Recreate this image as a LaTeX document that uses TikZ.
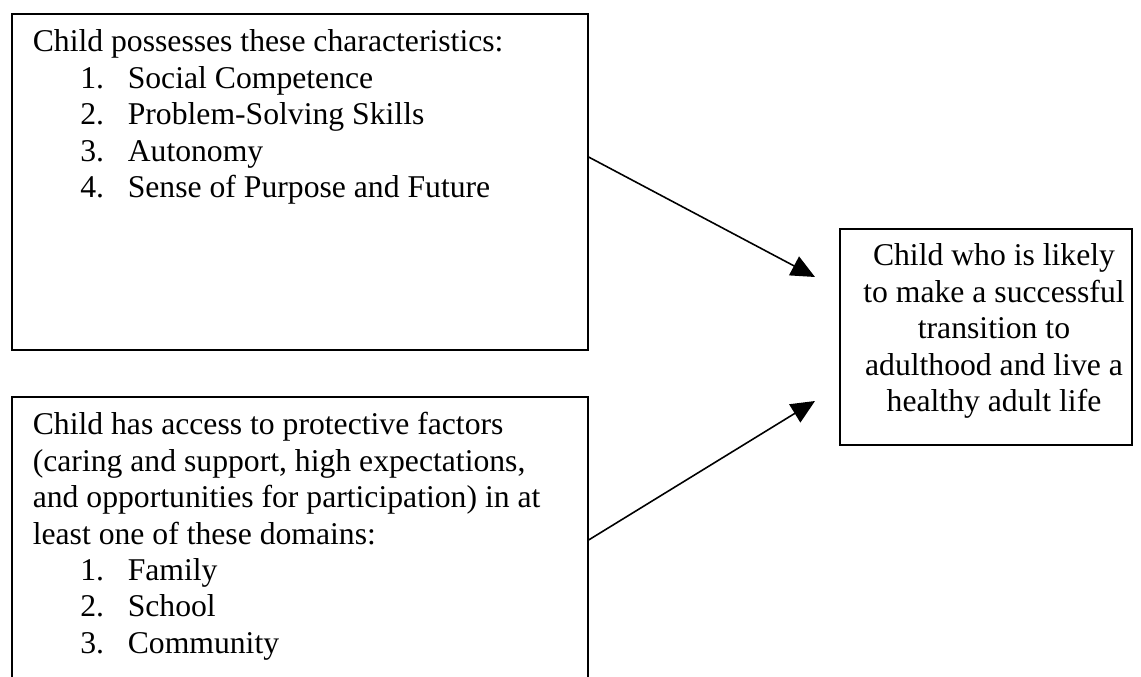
\documentclass[tikz,border=0pt]{standalone}
\usepackage{fontspec}
\setmainfont{Liberation Serif}
\usetikzlibrary{arrows.meta,calc}

% numbered line: number at 18pt, text at 36pt
\newcommand{\numline}[2]{\hspace*{18pt}\makebox[18pt][l]{#1}#2}

\begin{document}
\begin{tikzpicture}[x=0.3788pt, y=-0.3788pt, line width=0.6pt,
    frame/.style={draw, anchor=north west, inner sep=0pt},
    txt/.style={inner sep=0pt, font=\fontsize{12}{13.8}\selectfont},
    arrow/.style={-{Triangle[length=9pt, width=8pt]}}]
  \clip (0,0) rectangle (1141,677);
  \fill[white] (0,0) rectangle (1141,677);

  % the three boxes
  \node[frame, minimum width=218.2pt, minimum height=127.3pt] (charbox) at (11,13) {};
  \node[frame, minimum width=218.2pt, minimum height=125pt] (protbox) at (11,396) {};
  \node[frame, minimum width=110.6pt, minimum height=81.8pt] (goalbox) at (839,228) {};

  % texts sit on the baseline of their last line
  \node[txt, anchor=base west, align=left] (chartext) at (32,197.6)
    {Child possesses these characteristics:\\
     \numline{1.}{Social Competence}\\
     \numline{2.}{Problem-Solving Skills}\\
     \numline{3.}{Autonomy}\\
     \numline{4.}{Sense of Purpose and Future}};

  \node[txt, anchor=base west, align=left] (prottext) at (32,653.4)
    {Child has access to protective factors\\
     (caring and support, high expectations,\\
     and opportunities for participation) in at\\
     least one of these domains:\\
     \numline{1.}{Family}\\
     \numline{2.}{School}\\
     \numline{3.}{Community}};

  \node[txt, anchor=base, align=center] (goaltext) at (994,411.6)
    {Child who is likely\\
     to make a successful\\
     transition to\\
     adulthood and live a\\
     healthy adult life};

  % arrows into the right box
  \coordinate (tipA) at (815,277);
  \coordinate (tipB) at (815,401);
  \draw[arrow] ($(charbox.north east)+(0,144)$) -- (tipA);
  \draw[arrow] ($(protbox.north east)+(0,144)$) -- (tipB);
\end{tikzpicture}
\end{document}
